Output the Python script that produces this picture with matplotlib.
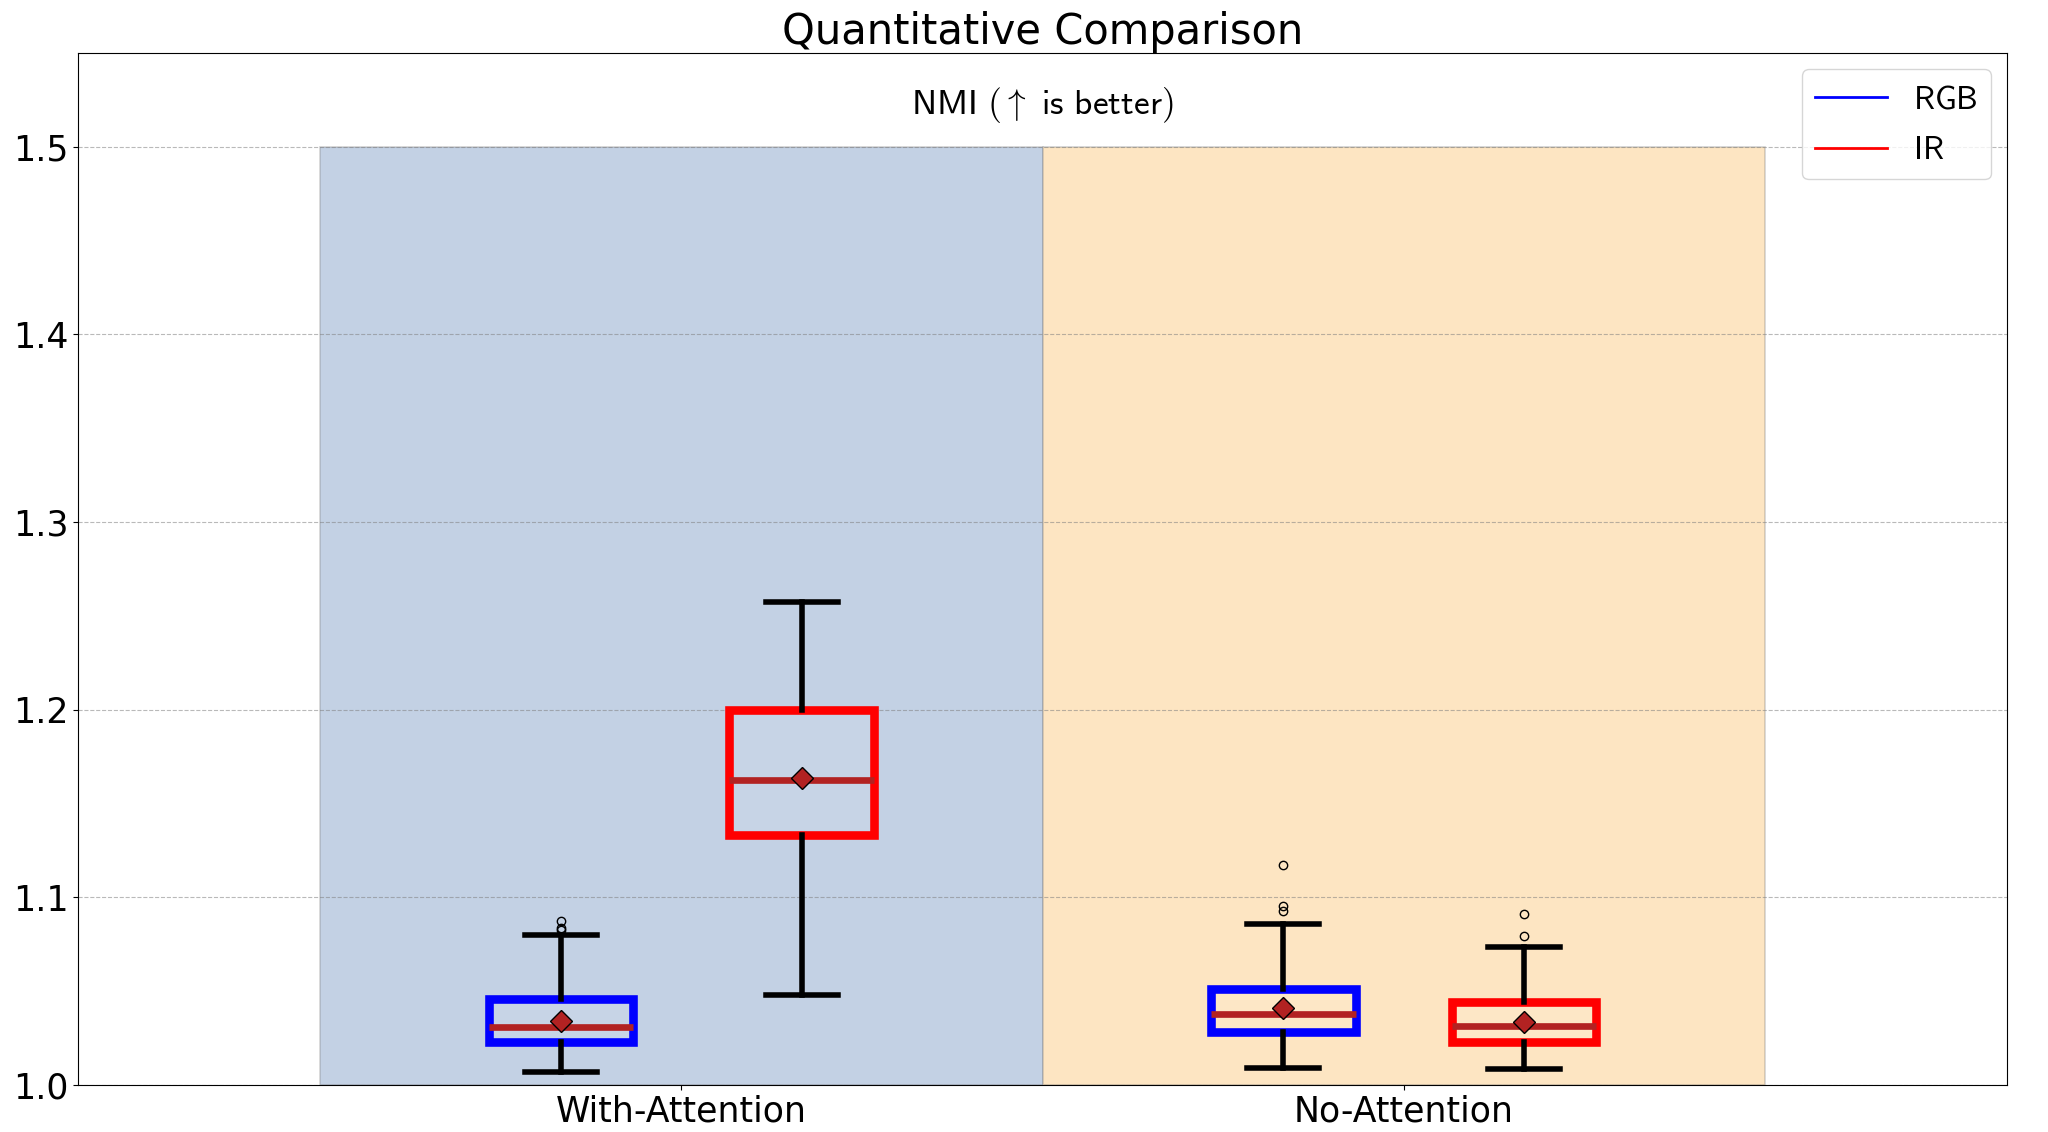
import matplotlib

matplotlib.use("Agg")

import matplotlib.pyplot as plt
from matplotlib.lines import Line2D
from matplotlib.patches import Rectangle

plt.rcParams["mathtext.fontset"] = "cm"

groups = ["With-Attention", "No-Attention"]
modalities = ["RGB", "IR"]
modality_colors = ["blue", "red"]
group_shades = ["#c3d1e4", "#fde5c2"]
yticks = [1.0, 1.1, 1.2, 1.3, 1.4, 1.5]

# one entry per box: With-Attention RGB, With-Attention IR, No-Attention RGB, No-Attention IR
whislo = [1.007, 1.048, 1.009, 1.0085]
q1 = [1.023, 1.133, 1.028, 1.0227]
med = [1.0307, 1.1624, 1.0376, 1.0312]
q3 = [1.0458, 1.200, 1.0511, 1.0444]
whishi = [1.080, 1.2574, 1.0856, 1.0737]
means = [1.0339, 1.1638, 1.041, 1.0337]
fliers = [
    [1.0875, 1.0835, 1.0825],
    [],
    [1.117, 1.0953, 1.0927],
    [1.0914, 1.0793],
]

fig = plt.figure(figsize=(20.48, 11.32), dpi=100)
ax = fig.add_axes([0.0381, 0.0415, 0.9419, 0.9117])

# background bands per group
for gi, shade in enumerate(group_shades):
    ax.add_patch(
        Rectangle(
            (gi - 0.5, 1.0), 1.0, 0.5,
            facecolor=shade, edgecolor=(0.5, 0.5, 0.5, 0.35), lw=1.2, zorder=0.5,
        )
    )

offsets = [-1 / 6, 1 / 6]
k = 0
for gi, group in enumerate(groups):
    for mi, mod in enumerate(modalities):
        stats = [{
            "whislo": whislo[k], "q1": q1[k], "med": med[k], "q3": q3[k],
            "whishi": whishi[k], "mean": means[k], "fliers": fliers[k],
            "label": f"{group} {mod}",
        }]
        ax.bxp(
            stats,
            positions=[gi + offsets[mi]],
            widths=0.2,
            showmeans=True,
            patch_artist=True,
            manage_ticks=False,
            boxprops=dict(facecolor=(1, 1, 1, 0.08), edgecolor=modality_colors[mi], lw=6.2),
            whiskerprops=dict(color="black", lw=4),
            capprops=dict(color="black", lw=4),
            medianprops=dict(color="firebrick", lw=4.8),
            meanprops=dict(marker="D", markerfacecolor="firebrick",
                           markeredgecolor="black", markeredgewidth=1.0, markersize=11),
            flierprops=dict(marker="o", markerfacecolor="none",
                            markeredgecolor="black", markeredgewidth=1.0, markersize=6),
        )
        k += 1

ax.set_xlim(-0.835, 1.835)
ax.set_ylim(1.0, 1.55)
ax.set_xticks(range(len(groups)))
ax.set_xticklabels(groups)
ax.set_yticks(yticks)
ax.tick_params(labelsize=25)
ax.yaxis.grid(True, linestyle="--", color="gray", alpha=0.55, lw=0.8)

ax.set_title("Quantitative Comparison", fontsize=30)
ax.text(0.5, 0.95, r"$\mathsf{NMI\ (\uparrow\ is\ better)}$", transform=ax.transAxes,
        ha="center", va="center", fontsize=25.5)

handles = [Line2D([0], [0], color=c, lw=2) for c in modality_colors]
labels = [r"$\mathsf{" + m + "}$" for m in modalities]
ax.legend(handles, labels, loc="upper right", fontsize=23.5, handlelength=2.2,
          labelspacing=0.55)

fig.savefig("out.png", dpi=100)
plt.close(fig)
